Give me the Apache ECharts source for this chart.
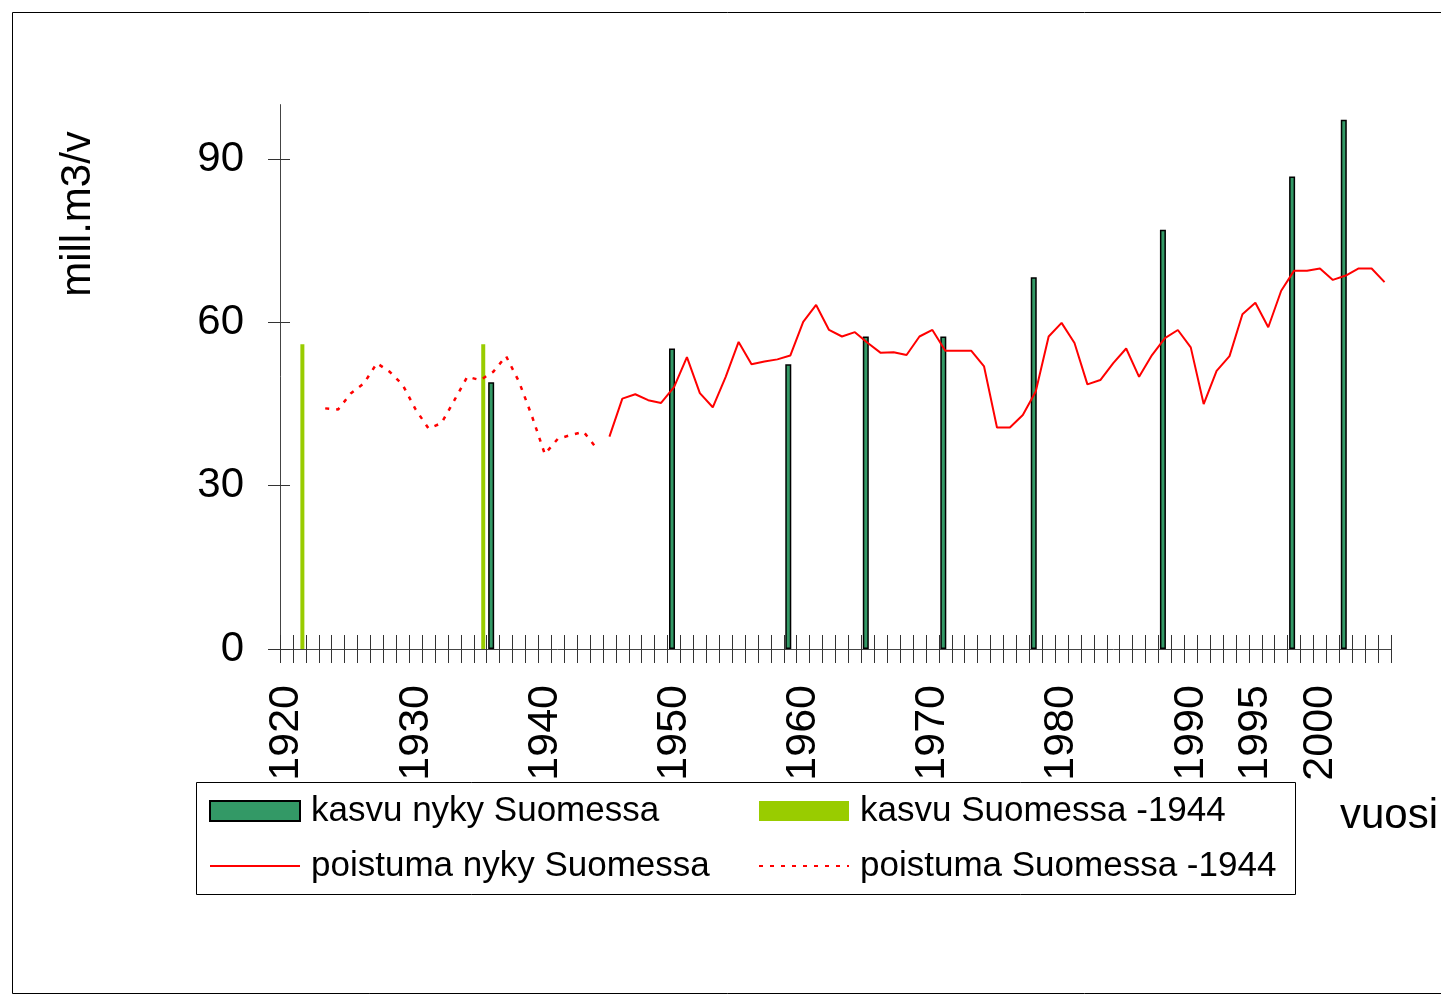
<!DOCTYPE html>
<html>
<head>
<meta charset="utf-8">
<script src="https://cdn.jsdelivr.net/npm/echarts@6/dist/echarts.min.js"></script>
<style>
  html, body { margin: 0; padding: 0; background: #fff; }
  #main { width: 1441px; height: 996px; }
</style>
</head>
<body>
<div id="main"></div>
<script>
var years = ['1920','1921','1922','1923','1924','1925','1926','1927','1928','1929',
  '1930','1931','1932','1933','1934','1935','1936','1937','1938','1939',
  '1940','1941','1942','1943','1944','1945','1946','1947','1948','1949',
  '1950','1951','1952','1953','1954','1955','1956','1957','1958','1959',
  '1960','1961','1962','1963','1964','1965','1966','1967','1968','1969',
  '1970','1971','1972','1973','1974','1975','1976','1977','1978','1979',
  '1980','1981','1982','1983','1984','1985','1986','1987','1988','1989',
  '1990','1991','1992','1993','1994','1995','1996','1997','1998','1999',
  '2000','2001','2002','2003','2004','2005'];
var tickLabels = ['1920','1930','1940','1950','1960','1970','1980','1990','1995','2000'];
var yTicks = [0, 30, 60, 90];

// kasvu (bars)
var kasvuNykyYears = ['1936','1950','1959','1965','1971','1978','1988','1998','2002'];
var kasvuNyky = [49.0, 55.2, 52.3, 57.4, 57.4, 68.3, 77.0, 86.8, 97.2];
var kasvuVanhaYears = ['1921','1935'];
var kasvuVanha = [56.0, 56.0];

// poistuma (lines)
var poistumaVanhaStart = 1923;
var poistumaVanha = [44.2, 44.0, 47.0, 48.8, 52.5, 50.9, 48.5, 44.0, 40.5, 41.5,
  45.7, 50.0, 49.4, 50.9, 53.8, 49.1, 42.8, 35.8, 38.6, 39.3, 39.9, 36.9];
var poistumaNykyStart = 1945;
var poistumaNyky = [39.0, 46.0, 46.8, 45.7, 45.2, 48.1, 53.6, 47.0, 44.4, 50.0,
  56.4, 52.3, 52.8, 53.2, 53.9, 60.1, 63.2, 58.6, 57.4, 58.2,
  56.2, 54.4, 54.5, 54.0, 57.4, 58.6, 54.8, 54.8, 54.8, 51.9,
  40.7, 40.7, 43.0, 47.3, 57.4, 59.9, 56.2, 48.6, 49.4, 52.5,
  55.2, 50.0, 54.0, 57.1, 58.6, 55.4, 45.0, 51.1, 53.8, 61.5,
  63.6, 59.1, 65.8, 69.5, 69.5, 69.9, 67.8, 68.6, 69.9, 69.9, 67.4];

function pairs(cats, vals) {
  var out = [];
  for (var i = 0; i < vals.length; i++) out.push([cats[i], vals[i]]);
  return out;
}
function fromStart(start, vals) {
  var out = [];
  for (var i = 0; i < vals.length; i++) out.push([String(start + i), vals[i]]);
  return out;
}

var FONT = '"Liberation Sans", Arial, sans-serif';
var legendText = { fontSize: 35, lineHeight: 40, color: '#000', fontFamily: FONT, padding: [0, 0, 0, 6] };
var chart = echarts.init(document.getElementById('main'));
chart.setOption({
  animation: false,
  backgroundColor: '#fff',
  grid: { left: 280, right: 50, top: 104.6, bottom: 347 },
  xAxis: [
    {
      type: 'category',
      data: years,
      axisLine: { show: true, lineStyle: { color: '#444', width: 1 } },
      axisTick: { show: true, interval: 0, length: 14, lineStyle: { color: '#333' } },
      axisLabel: {
        interval: function(i, v) { return tickLabels.indexOf(v) >= 0; },
        rotate: 90, margin: 36, fontSize: 43, color: '#000', fontFamily: FONT
      },
      splitLine: { show: false }
    },
    {
      type: 'category',
      data: years,
      position: 'bottom',
      axisLine: { show: false },
      axisTick: { show: true, inside: true, interval: 0, length: 14, lineStyle: { color: '#333' } },
      axisLabel: { show: false },
      splitLine: { show: false }
    }
  ],
  yAxis: [
    {
      type: 'value', min: 0, max: 100, interval: 30, position: 'left',
      axisLine: { show: true, lineStyle: { color: '#444', width: 1 } },
      axisTick: { show: true, length: 12, customValues: yTicks, lineStyle: { color: '#333' } },
      axisLabel: { customValues: yTicks, margin: 36, fontSize: 42, color: '#000', fontFamily: FONT },
      splitLine: { show: false }
    },
    {
      type: 'value', min: 0, max: 100, interval: 30, position: 'left', offset: 0,
      axisLine: { show: false },
      axisTick: { show: true, inside: true, length: 10, customValues: yTicks, lineStyle: { color: '#333' } },
      axisLabel: { show: false },
      splitLine: { show: false }
    }
  ],
  legend: [
    {
      orient: 'vertical', left: 209, top: 791, padding: 0, z: 60,
      itemWidth: 90, itemHeight: 20, itemGap: 15,
      textStyle: legendText,
      data: [
        { name: 'kasvu nyky Suomessa', icon: 'rect' },
        { name: 'poistuma nyky Suomessa', itemStyle: { opacity: 0 } }
      ]
    },
    {
      orient: 'vertical', left: 758, top: 791, padding: 0, z: 60,
      itemWidth: 90, itemHeight: 20, itemGap: 15,
      textStyle: legendText,
      data: [
        { name: 'kasvu Suomessa -1944', icon: 'rect' },
        { name: 'poistuma Suomessa -1944', itemStyle: { opacity: 0 } }
      ]
    }
  ],
  graphic: [
    {
      type: 'rect', z: 50,
      shape: { x: 12.5, y: 12.5, width: 1440, height: 981 },
      style: { fill: 'none', stroke: '#000', lineWidth: 1 }
    },
    {
      type: 'rect', z: 50,
      shape: { x: 196.5, y: 782.5, width: 1099, height: 112 },
      style: { fill: '#fff', stroke: '#000', lineWidth: 1 }
    },
    {
      type: 'text', z: 50, x: 78, y: 214, rotation: Math.PI / 2,
      style: { text: 'mill.m3/v', font: '42px ' + FONT, fill: '#000', textAlign: 'center', textVerticalAlign: 'middle' }
    },
    {
      type: 'text', z: 50, x: 1340, y: 795,
      style: { text: 'vuosi', font: '42px ' + FONT, fill: '#000', textAlign: 'left', textVerticalAlign: 'top' }
    }
  ],
  series: [
    {
      name: 'kasvu nyky Suomessa',
      type: 'bar',
      barWidth: 6,
      barGap: 0,
      data: pairs(kasvuNykyYears, kasvuNyky),
      itemStyle: { color: '#339966', borderColor: '#000', borderWidth: 1.5 }
    },
    {
      name: 'kasvu Suomessa -1944',
      type: 'bar',
      barWidth: 4,
      barGap: 0,
      data: pairs(kasvuVanhaYears, kasvuVanha),
      itemStyle: { color: '#99CC00' }
    },
    {
      name: 'poistuma nyky Suomessa',
      type: 'line',
      symbol: 'none',
      data: fromStart(poistumaNykyStart, poistumaNyky),
      lineStyle: { color: '#FF0000', width: 2 },
      itemStyle: { color: '#FF0000' }
    },
    {
      name: 'poistuma Suomessa -1944',
      type: 'line',
      symbol: 'none',
      data: fromStart(poistumaVanhaStart, poistumaVanha),
      lineStyle: { color: '#FF0000', width: 2.5, type: [4, 7] },
      itemStyle: { color: '#FF0000' }
    }
  ]
});
</script>
</body>
</html>
